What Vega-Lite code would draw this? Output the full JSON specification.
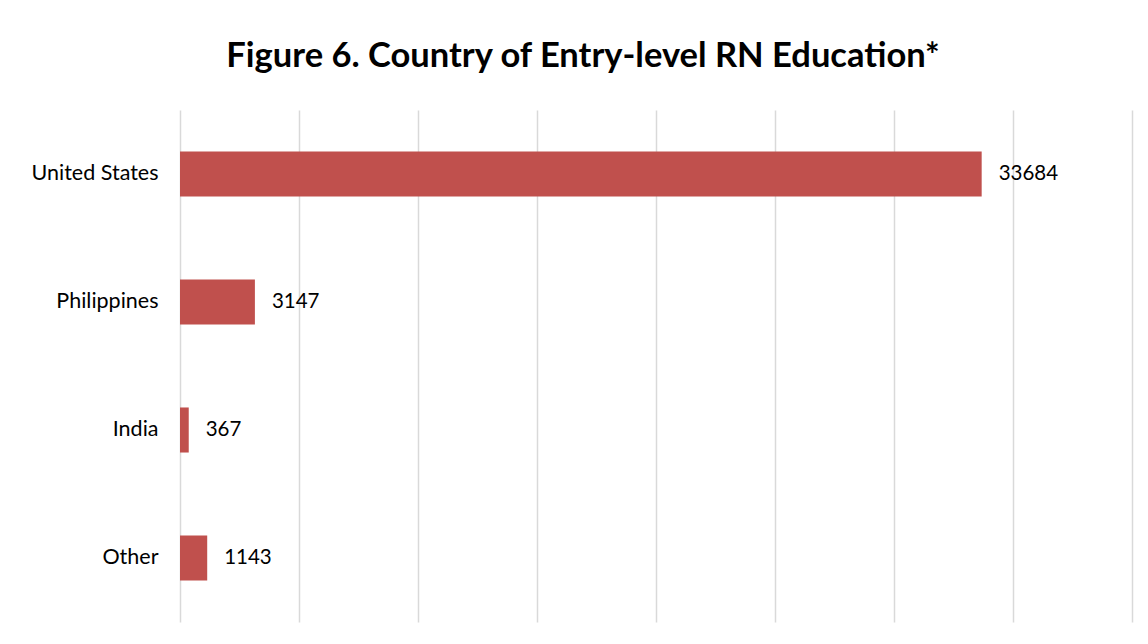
{
  "$schema": "https://vega.github.io/schema/vega-lite/v6.json",
  "width": 952,
  "height": 512,
  "autosize": {"type": "none"},
  "padding": {"left": 180, "top": 110, "right": 16, "bottom": 22},
  "background": "white",
  "title": {
    "text": "Figure 6. Country of Entry-level RN Education*",
    "font": "Lato",
    "fontSize": 34.5,
    "fontWeight": "bold",
    "color": "#000000",
    "anchor": "middle",
    "dx": -73,
    "offset": 36
  },
  "config": {
    "view": {"stroke": null},
    "font": "Lato"
  },
  "data": {
    "values": [
      {"country": "United States", "count": 33684},
      {"country": "Philippines", "count": 3147},
      {"country": "India", "count": 367},
      {"country": "Other", "count": 1143}
    ]
  },
  "encoding": {
    "y": {
      "field": "country",
      "type": "nominal",
      "sort": null,
      "scale": {"paddingInner": 0.648, "paddingOuter": 0.324},
      "axis": {
        "title": null,
        "domain": false,
        "ticks": false,
        "grid": false,
        "labelFont": "Lato",
        "labelFontSize": 21.5,
        "labelColor": "#000000",
        "labelPadding": 22
      }
    },
    "x": {
      "field": "count",
      "type": "quantitative",
      "scale": {"domain": [0, 40000], "nice": false},
      "axis": {
        "title": null,
        "labels": false,
        "ticks": false,
        "domain": false,
        "grid": true,
        "values": [0, 5000, 10000, 15000, 20000, 25000, 30000, 35000, 40000],
        "gridColor": "#D9D9D9",
        "gridWidth": 1.5
      }
    }
  },
  "layer": [
    {"mark": {"type": "bar", "color": "#C0504D"}},
    {
      "mark": {"type": "text", "align": "left", "baseline": "middle", "dx": 17, "fontSize": 20.5, "font": "Lato", "color": "#000000"},
      "encoding": {"text": {"field": "count", "type": "quantitative", "format": "d"}}
    }
  ]
}
